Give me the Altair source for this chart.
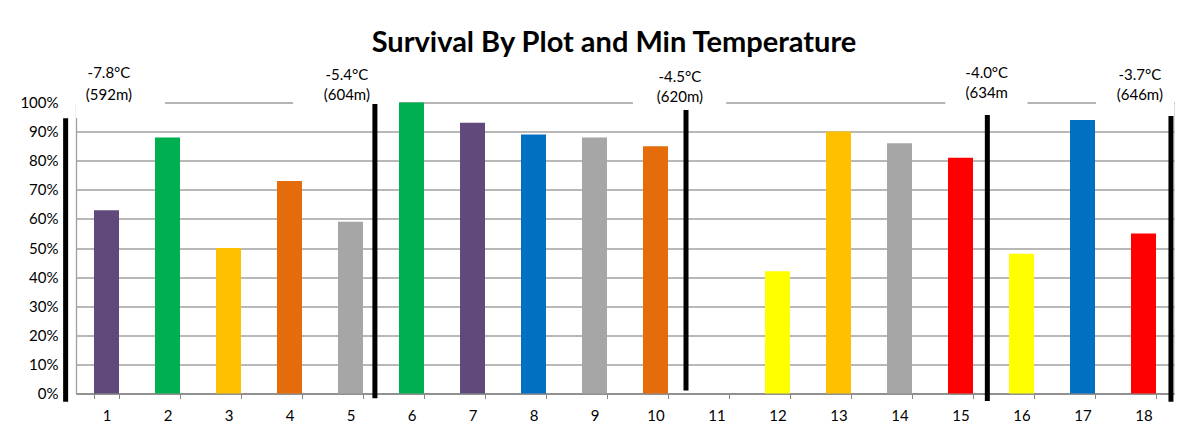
import altair as alt
import pandas as pd

# ---- data ----
plots = [str(i) for i in range(1, 19)]
survival = [63, 88, 50, 73, 59, 100, 93, 89, 88, 85, None, 42, 90, 86, 81, 48, 94, 55]
bar_colors = ["#604A7B", "#00B050", "#FFC000", "#E46C0A", "#A6A6A6", "#00B050",
              "#604A7B", "#0070C0", "#A6A6A6", "#E46C0A", "#FFFFFF", "#FFFF00",
              "#FFC000", "#A6A6A6", "#FF0000", "#FFFF00", "#0070C0", "#FF0000"]
y_ticks = [0, 10, 20, 30, 40, 50, 60, 70, 80, 90, 100]

# hand-drawn separator lines (in plot-number units / percent units)
sep_x = [-0.17, 4.9, 10.0, 14.94, 17.95]
sep_top = [94.6, 99.5, 97.4, 95.7, 95.4]
sep_bottom = [-2.8, -1.6, 1.0, -2.6, -2.8]

# temperature / elevation annotations
ann_x = [0.54, 4.44, 9.9, 14.93, 17.44]
ann_temp = ["-7.8°C", "-5.4°C", "-4.5°C", "-4.0°C", "-3.7°C"]
ann_elev = ["(592m)", "(604m)", "(620m)", "(634m", "(646m)"]
ann_y_temp = [110.3, 109.4, 108.8, 110.3, 109.4]
ann_y_elev = [102.7, 102.6, 101.9, 103.3, 102.7]

# white text-box backgrounds of the annotations
box_x1 = [0.0, 3.56, 9.13, 14.25, 16.72]
box_x2 = [1.46, 5.3, 10.66, 15.6, 18.0]
box_y1 = [94.7, 97, 97, 97, 97]
box_y2 = [106, 106, 106, 106, 106]

FONT = "Lato"

bars_df = pd.DataFrame({"plot": plots, "survival": survival, "color": bar_colors})
sep_df = pd.DataFrame({"x": sep_x, "top": sep_top, "bottom": sep_bottom})
ann_df = pd.DataFrame({"x": ann_x, "temp": ann_temp, "elev": ann_elev,
                       "yt": ann_y_temp, "ye": ann_y_elev})
box_df = pd.DataFrame({"x1": box_x1, "x2": box_x2, "y1": box_y1, "y2": box_y2})

yscale = alt.Scale(domain=[0, 100], nice=False, zero=False)
xq = alt.Scale(domain=[0, 18], nice=False, zero=False)
yaxis = alt.Axis(title=None, values=y_ticks,
                 labelExpr="datum.value + '%'",
                 labelOverlap=False,
                 ticks=False, labelPadding=18, labelFontSize=15,
                 labelFont=FONT, labelColor="black",
                 gridColor="#A0A0A0", gridWidth=1.3,
                 domainColor="#A0A0A0", domainWidth=1.3, zindex=0)

boxes = alt.Chart(box_df).mark_rect(color="white").encode(
    x=alt.X("x1:Q", scale=xq, axis=None),
    x2="x2:Q",
    y=alt.Y("y1:Q", scale=yscale, axis=yaxis),
    y2="y2:Q",
)

bars = alt.Chart(bars_df).mark_bar().encode(
    x=alt.X("plot:N", sort=plots,
            scale=alt.Scale(domain=plots, paddingInner=0.59, paddingOuter=0.295),
            axis=alt.Axis(title=None, labelAngle=0, tickBand="extent", tickSize=5,
                          labelPadding=10, labelFontSize=15, labelFont=FONT,
                          labelColor="black", domainColor="#868686",
                          tickColor="#868686", grid=False, domainWidth=1.3)),
    y=alt.Y("survival:Q", scale=yscale, axis=yaxis),
    color=alt.Color("color:N", scale=None),
)

seps = alt.Chart(sep_df).mark_rule(color="black", strokeWidth=5).encode(
    x=alt.X("x:Q", scale=xq, axis=None),
    y=alt.Y("top:Q", scale=yscale, axis=yaxis),
    y2="bottom:Q",
)

temp_text = alt.Chart(ann_df).mark_text(font=FONT, fontSize=15, color="black",
                                        baseline="middle").encode(
    x=alt.X("x:Q", scale=xq, axis=None),
    y=alt.Y("yt:Q", scale=yscale, axis=yaxis),
    text="temp:N",
)
elev_text = alt.Chart(ann_df).mark_text(font=FONT, fontSize=15, color="black",
                                        baseline="middle").encode(
    x=alt.X("x:Q", scale=xq, axis=None),
    y=alt.Y("ye:Q", scale=yscale, axis=yaxis),
    text="elev:N",
)

chart = alt.layer(boxes, bars, seps, temp_text, elev_text).resolve_scale(
    x="independent"
).properties(
    width=1098,
    height=291,
    padding={"left": 68, "top": 94.5, "right": 5, "bottom": 30},
    autosize=alt.AutoSizeParams(type="none"),
    title=alt.TitleParams("Survival By Plot and Min Temperature", font=FONT,
                          fontSize=29, fontWeight="bold", color="black",
                          anchor="middle", dx=-11, offset=8),
).configure_view(stroke=None).configure(background="white")

chart.save("out.html", embed_options={"renderer": "svg", "actions": False})
